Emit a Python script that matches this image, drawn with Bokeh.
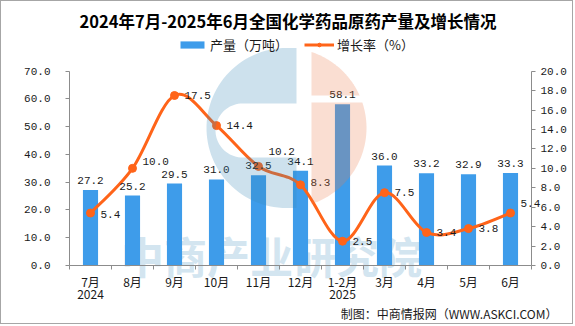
import numpy as np
from bokeh.plotting import figure
from bokeh.models import (Range1d, LinearAxis, FixedTicker, Legend, LegendItem,
                          Label, NumeralTickFormatter)
from bokeh.core.properties import value
from bokeh.embed import file_html
from bokeh.resources import INLINE

# ---------------- data ----------------
months = ["7月\n2024", "8月", "9月", "10月", "11月", "12月", "1-2月\n2025",
          "3月", "4月", "5月", "6月"]
output = [27.2, 25.2, 29.5, 31.0, 32.5, 34.1, 58.1, 36.0, 33.2, 32.9, 33.3]
growth = [5.4, 10.0, 17.5, 14.4, 10.2, 8.3, 2.5, 7.5, 3.4, 3.8, 5.4]
left_ticks = [0, 10, 20, 30, 40, 50, 60, 70]
right_ticks = [0, 2, 4, 6, 8, 10, 12, 14, 16, 18, 20]

# label nudges (px, upward) for the growth labels
growth_label_up = [-1.5, 7, 0, 0, 15, 2.5, 0, 0, 0, 0, 10]

# ---------------- layout (pixels in the 575x326 picture) ----------------
PX_L, PX_R, PX_B = 69, 531, 265
PX_AXIS_TOP = 70.7
N = len(months)
LEFT_MAX, RIGHT_MAX = 70, 20
s_left = (PX_B - PX_AXIS_TOP) / LEFT_MAX
s_right = (PX_B - PX_AXIS_TOP) / RIGHT_MAX
W, H = 575, 326

def x_of(px):
    return (px - PX_L) / (PX_R - PX_L) * N

def y_of(py):
    return (PX_B - py) / s_left

def yr_of(py):
    return (PX_B - py) / s_right

BLUE = "#3e9cea"
ORANGE = "#ff6419"
AXIS_GRAY = "#8c8c8c"
TEXT = "#1a1a1a"
NUM_FONT = "Liberation Mono"
CJK_FONT = "Noto Sans CJK SC"

# frame covers the whole canvas (inside a 1px border); axes are pinned
p = figure(width=W - 2, height=H - 2, output_backend="svg", toolbar_location=None,
           x_range=Range1d(x_of(1), x_of(W - 1)),
           y_range=Range1d(y_of(H - 1), y_of(1)),
           min_border=0, min_border_left=0, min_border_right=0,
           min_border_top=0, min_border_bottom=0,
           x_axis_location="below", y_axis_location="left")
p.styles = {"border": "1px solid #a6a6a6"}
p.extra_y_ranges = {"pct": Range1d(yr_of(H - 1), yr_of(1))}
p.outline_line_color = None
p.grid.visible = False
p.background_fill_color = "white"
p.border_fill_color = "white"

# axes
xa = p.xaxis[0]
xa.fixed_location = 0
xa.bounds = (0, N)
xa.ticker = FixedTicker(ticks=[i + 0.5 for i in range(N)],
                        minor_ticks=list(range(N + 1)))
xa.major_label_overrides = {i + 0.5: m for i, m in enumerate(months)}
xa.major_tick_line_color = None
xa.minor_tick_out = 4
xa.minor_tick_in = 0
xa.minor_tick_line_color = AXIS_GRAY
xa.axis_line_color = AXIS_GRAY
xa.major_label_text_font = CJK_FONT
xa.major_label_text_font_size = "12px"
xa.major_label_text_color = TEXT
xa.major_label_text_line_height = 0.75
xa.major_label_standoff = 1

ya = p.yaxis[0]
ya.fixed_location = 0
ya.ticker = FixedTicker(ticks=left_ticks)
ya.bounds = (0, LEFT_MAX)
ya.formatter = NumeralTickFormatter(format="0.0")
ya.major_tick_out = 4
ya.major_tick_in = 0
ya.minor_tick_line_color = None
ya.axis_line_color = AXIS_GRAY
ya.major_tick_line_color = AXIS_GRAY
ya.major_label_text_font = NUM_FONT
ya.major_label_text_font_size = "11px"
ya.major_label_text_color = TEXT
ya.major_label_standoff = 15

ra = LinearAxis(y_range_name="pct", ticker=FixedTicker(ticks=right_ticks),
                bounds=(0, RIGHT_MAX), formatter=NumeralTickFormatter(format="0.0"),
                fixed_location=N)
ra.major_tick_out = 4
ra.major_tick_in = 0
ra.minor_tick_line_color = None
ra.axis_line_color = AXIS_GRAY
ra.major_tick_line_color = AXIS_GRAY
ra.major_label_text_font = NUM_FONT
ra.major_label_text_font_size = "11px"
ra.major_label_text_color = TEXT
ra.major_label_standoff = 5
p.add_layout(ra, "right")

xs = [i + 0.5 for i in range(N)]

# title
p.add_layout(Label(x=x_of(287.5), y=y_of(20.5), text="2024年7月-2025年6月全国化学药品原药产量及增长情况",
                   text_font=CJK_FONT, text_font_size="16.5px", text_font_style="bold",
                   text_color="#000000", text_align="center", text_baseline="middle"))

# watermark text (under the bars)
p.add_layout(Label(x=x_of(271), y=y_of(254), text="中商产业研究院",
                   text_font=CJK_FONT, text_font_size="43px", text_font_style="bold",
                   text_color="#d3e5f0", text_align="center", text_baseline="middle",
                   level="underlay"))

# bars
bars = p.vbar(x=xs, top=output, width=0.36, color=BLUE, line_color=None)

# smooth growth line (Catmull-Rom as cubic Bezier segments)
gx = np.array(xs)
gy = np.array(growth, dtype=float)
x0, y0, x1, y1, cx0, cy0, cx1, cy1 = ([] for _ in range(8))
for i in range(N - 1):
    a = max(i - 1, 0)
    d = min(i + 2, N - 1)
    x0.append(gx[i]); y0.append(gy[i]); x1.append(gx[i + 1]); y1.append(gy[i + 1])
    cx0.append(gx[i] + (gx[i + 1] - gx[a]) / 6)
    cy0.append(gy[i] + (gy[i + 1] - gy[a]) / 6)
    cx1.append(gx[i + 1] - (gx[d] - gx[i]) / 6)
    cy1.append(gy[i + 1] - (gy[d] - gy[i]) / 6)
curve = p.bezier(x0=x0, y0=y0, x1=x1, y1=y1, cx0=cx0, cy0=cy0, cx1=cx1, cy1=cy1,
                 line_color=ORANGE, line_width=3, y_range_name="pct")
dots = p.scatter(x=xs, y=growth, size=8, color=ORANGE, y_range_name="pct")

# value labels
p.text(x=xs, y=output, text=[f"{v:.1f}" for v in output], text_align="center",
       text_baseline="bottom", y_offset=-6, text_font=value(NUM_FONT),
       text_font_size="11px", text_color=TEXT)
p.text(x=xs, y=growth, text=[f"{v:.1f}" for v in growth], text_align="left",
       text_baseline="middle", x_offset=10, y_offset=[-u for u in growth_label_up],
       text_font=value(NUM_FONT), text_font_size="11px", text_color=TEXT,
       y_range_name="pct")

# logo watermark (drawn over, translucent)
cxp, cyp, R = 286, 127.5, 80
t = np.linspace(np.pi / 2, 3 * np.pi / 2, 60)
blue_outer_px = [(296, cyp - R)] + [(cxp + R * np.cos(a), cyp - R * np.sin(a)) for a in t] + [(296, cyp + R)]
t2 = np.linspace(np.pi / 2, 3 * np.pi / 2, 40)
hole_px = [(296, 103)] + [(242 + 27 * np.cos(a), 130 - 27 * np.sin(a)) for a in t2] + [(296, 157)]

def arc_right(py0, py1, n=40):
    pts = []
    for py in np.linspace(py0, py1, n):
        pts.append((cxp + np.sqrt(max(R * R - (py - cyp) ** 2, 0)), py))
    return pts

top_start = cyp - np.sqrt(R * R - (311 - cxp) ** 2)
bot_end = cyp + np.sqrt(R * R - (311 - cxp) ** 2)
sal_top_px = [(311, top_start)] + arc_right(top_start, 95) + [(311, 95)]
sal_bot_px = [(311, 102)] + arc_right(102, bot_end) + [(311, bot_end)]

def conv(pts):
    return [x_of(a) for a, _ in pts], [y_of(b) for _, b in pts]

bo_x, bo_y = conv(blue_outer_px)
ho_x, ho_y = conv(hole_px)
p.multi_polygons(xs=[[[bo_x, ho_x]]], ys=[[[bo_y, ho_y]]],
                 fill_color="#3888b8", fill_alpha=0.25, line_color=None)
st_x, st_y = conv(sal_top_px)
sb_x, sb_y = conv(sal_bot_px)
p.multi_polygons(xs=[[[st_x]], [[sb_x]]], ys=[[[st_y]], [[sb_y]]],
                 fill_color="#ec7c4c", fill_alpha=0.25, line_color=None)

# legend (location relative to frame bottom-left, frame starts at picture px 1)
legend = Legend(items=[LegendItem(label="产量（万吨）", renderers=[bars]),
                       LegendItem(label="增长率（%）", renderers=[curve, dots])],
                location=(176, (H - 1) - 54.2), orientation="horizontal",
                border_line_color=None, background_fill_alpha=0,
                padding=0, margin=0, spacing=16, label_standoff=3,
                glyph_width=30, glyph_height=9, label_height=13,
                label_text_font=CJK_FONT, label_text_font_size="13px",
                label_text_color=TEXT)
p.add_layout(legend, "center")

# credit
p.add_layout(Label(x=x_of(557), y=y_of(313), text="制图：中商情报网（WWW.ASKCI.COM）",
                   text_font=CJK_FONT, text_font_size="12px", text_color=TEXT,
                   text_align="right", text_baseline="middle"))

open("out.html", "w").write(file_html(p, INLINE))
